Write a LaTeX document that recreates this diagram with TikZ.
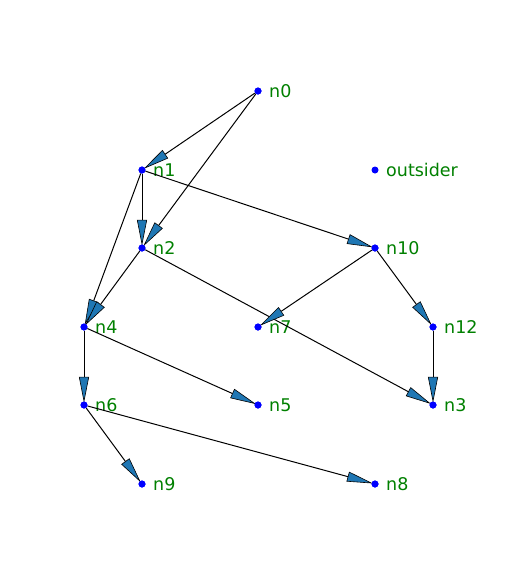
\documentclass[tikz,border=0pt]{standalone}
\usepackage{fontspec}
\setmainfont{DejaVu Sans}
\usetikzlibrary{arrows.meta}
\definecolor{mplblue}{HTML}{1F77B4}
\definecolor{lblgreen}{HTML}{008000}
\tikzset{
  vdot/.style={circle,fill=blue,inner sep=0pt,minimum size=7pt},
  vlbl/.style={text=lblgreen,font=\fontsize{17.5}{20}\selectfont,anchor=west,inner sep=0pt},
  edge/.style={draw=black,line width=1pt,shorten >=-1.5pt,
    -{Triangle[length=26pt,width=10pt,fill=mplblue,line width=0.6pt]}}
}
\begin{document}
\begin{tikzpicture}[x=1pt,y=-1pt]
\useasboundingbox (0,0) rectangle (504,576);
\foreach \n/\x/\y in {n0/258/91, n1/142/170, outsider/375/170, n2/142/248, n10/375/248,
  n4/84/327, n7/258/327, n12/433/327, n6/84/405, n5/258/405, n3/433/405, n9/142/484, n8/375/484}{
  \node[vdot] (\n) at (\x,\y) {};
  \node[vlbl] (\n-l) at (\x+11,\y) {\n};
}
\foreach \a/\b in {n0/n1, n0/n2, n1/n2, n1/n4, n1/n10, n2/n4, n2/n3, n10/n7, n10/n12,
  n12/n3, n4/n6, n4/n5, n6/n9, n6/n8}{
  \draw[edge] (\a) -- (\b);
}
\foreach \n in {n0,n1,n2,n10,n4,n7,n12,n6,n5,n3,n9,n8}{
  \node[vdot] at (\n) {};
}
\end{tikzpicture}
\end{document}
